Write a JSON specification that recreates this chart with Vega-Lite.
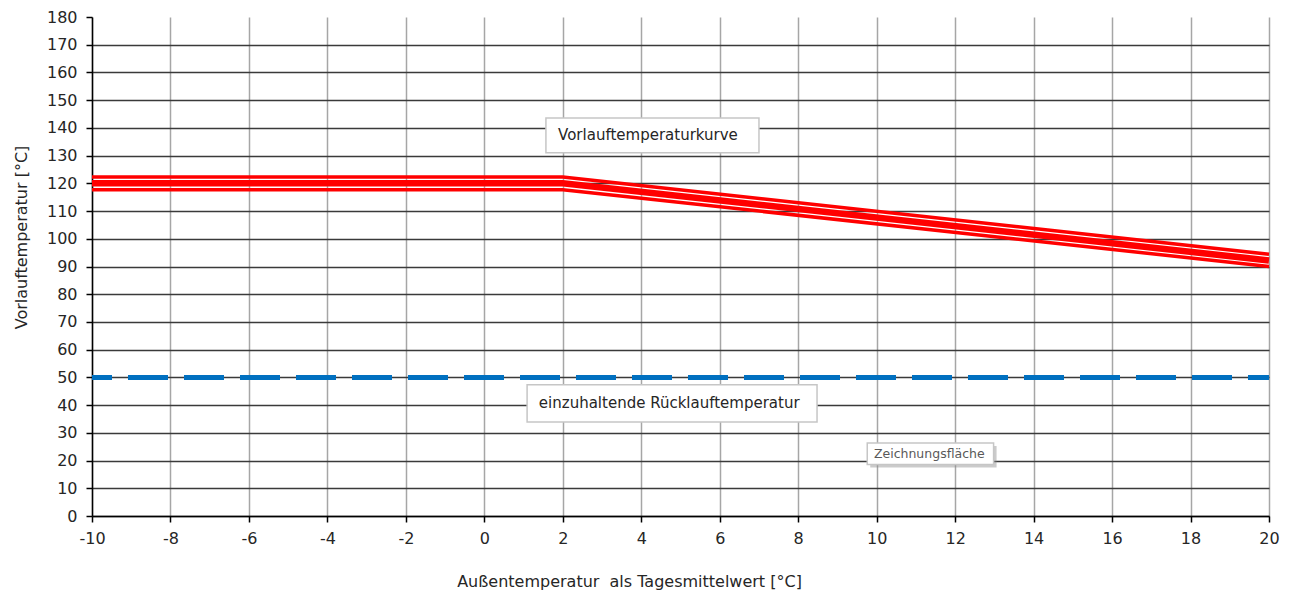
{
  "$schema": "https://vega.github.io/schema/vega-lite/v6.json",
  "autosize": "none",
  "width": 1177,
  "height": 499,
  "padding": {"left": 92, "top": 17, "right": 27, "bottom": 75},
  "background": "white",
  "config": {
    "view": {"stroke": null},
    "font": "DejaVu Sans",
    "axis": {"labelFont": "DejaVu Sans", "titleFont": "DejaVu Sans"}
  },
  "datasets": {
    "curve": [
      {"x": -10, "y": 122.3, "s": "oben"},
      {"x": 2, "y": 122.3, "s": "oben"},
      {"x": 20, "y": 94.4, "s": "oben"},
      {"x": -10, "y": 120, "s": "mitte"},
      {"x": 2, "y": 120, "s": "mitte"},
      {"x": 20, "y": 92.2, "s": "mitte"},
      {"x": -10, "y": 117.7, "s": "unten"},
      {"x": 2, "y": 117.7, "s": "unten"},
      {"x": 20, "y": 90.0, "s": "unten"}
    ],
    "ruecklauf": [
      {"x": -10, "y": 50},
      {"x": 20, "y": 50}
    ],
    "boxes": [
      {"x": 1.57, "x2": 7.0, "y": 131.0, "y2": 143.6, "tx": 1.88, "ty": 137.3, "label": "Vorlauftemperaturkurve", "kind": "big"},
      {"x": 1.09, "x2": 8.48, "y": 33.9, "y2": 47.3, "tx": 1.39, "ty": 40.6, "label": "einzuhaltende Rücklauftemperatur", "kind": "big"},
      {"x": 9.76, "x2": 12.98, "y": 18.6, "y2": 26.3, "tx": 9.93, "ty": 22.4, "label": "Zeichnungsfläche", "kind": "small"}
    ]
  },
  "encoding": {
    "x": {
      "field": "x", "type": "quantitative",
      "scale": {"domain": [-10, 20], "nice": false, "zero": false},
      "axis": {
        "title": "Außentemperatur\u00a0 als Tagesmittelwert [°C]",
        "values": [-10, -8, -6, -4, -2, 0, 2, 4, 6, 8, 10, 12, 14, 16, 18, 20],
        "labelExpr": "'' + datum.value",
        "grid": true, "gridColor": "#a6a6a6", "gridWidth": 1.5,
        "domainColor": "#000000", "domainWidth": 1.5,
        "tickColor": "#000000", "tickSize": 6, "tickWidth": 1.5,
        "labelFontSize": 16, "labelColor": "#262626", "labelPadding": 8,
        "labelFlush": false,
        "titleFontSize": 16, "titleFontWeight": "normal", "titleColor": "#262626",
        "titleX": 537, "titleY": 70, "titleAlign": "center", "titleBaseline": "alphabetic", "titleAnchor": null
      }
    },
    "y": {
      "field": "y", "type": "quantitative",
      "scale": {"domain": [0, 180], "nice": false},
      "axis": {
        "title": "Vorlauftemperatur [°C]",
        "values": [0, 10, 20, 30, 40, 50, 60, 70, 80, 90, 100, 110, 120, 130, 140, 150, 160, 170, 180],
        "grid": true, "gridColor": "#3a3a3a", "gridWidth": 1.5,
        "gridOpacity": {"condition": {"test": "datum.value === 180", "value": 0}, "value": 1},
        "domainColor": "#000000", "domainWidth": 1.5,
        "tickColor": "#000000", "tickSize": 6, "tickWidth": 1.5,
        "labelFontSize": 16, "labelColor": "#262626", "labelPadding": 9,
        "labelFlush": false,
        "titleFontSize": 16, "titleFontWeight": "normal", "titleColor": "#262626",
        "titleX": -71, "titleY": 220, "titleAngle": -90, "titleAlign": "center", "titleBaseline": "middle", "titleAnchor": null
      }
    }
  },
  "layer": [
    {
      "data": {"name": "ruecklauf"},
      "mark": {"type": "line", "color": "#0070c0", "strokeWidth": 5, "strokeDash": [40, 16], "strokeDashOffset": 20, "strokeCap": "butt"}
    },
    {
      "data": {"name": "curve"},
      "transform": [{"filter": "datum.s !== 'mitte'"}],
      "mark": {"type": "line", "color": "#ff0000", "strokeWidth": 3.5},
      "encoding": {"detail": {"field": "s"}}
    },
    {
      "data": {"name": "curve"},
      "transform": [{"filter": "datum.s === 'mitte'"}],
      "mark": {"type": "line", "color": "#ff0000", "strokeWidth": 6.5}
    },
    {
      "data": {"name": "boxes"},
      "transform": [{"filter": "datum.kind === 'small'"}],
      "mark": {"type": "rect", "fill": "#8c8c8c", "opacity": 0.45, "xOffset": 3, "x2Offset": 3, "yOffset": 3, "y2Offset": 3},
      "encoding": {"x2": {"field": "x2"}, "y2": {"field": "y2"}}
    },
    {
      "data": {"name": "boxes"},
      "mark": {"type": "rect", "fill": "#ffffff", "stroke": "#c6c6c6", "strokeWidth": 1.5},
      "encoding": {"x2": {"field": "x2"}, "y2": {"field": "y2"}}
    },
    {
      "data": {"name": "boxes"},
      "transform": [{"filter": "datum.kind === 'big'"}],
      "mark": {"type": "text", "align": "left", "baseline": "middle", "fontSize": 15, "color": "#262626"},
      "encoding": {"x": {"field": "tx", "type": "quantitative"}, "y": {"field": "ty", "type": "quantitative"}, "text": {"field": "label"}}
    },
    {
      "data": {"name": "boxes"},
      "transform": [{"filter": "datum.kind === 'small'"}],
      "mark": {"type": "text", "align": "left", "baseline": "middle", "fontSize": 12.5, "color": "#595959"},
      "encoding": {"x": {"field": "tx", "type": "quantitative"}, "y": {"field": "ty", "type": "quantitative"}, "text": {"field": "label"}}
    }
  ]
}
